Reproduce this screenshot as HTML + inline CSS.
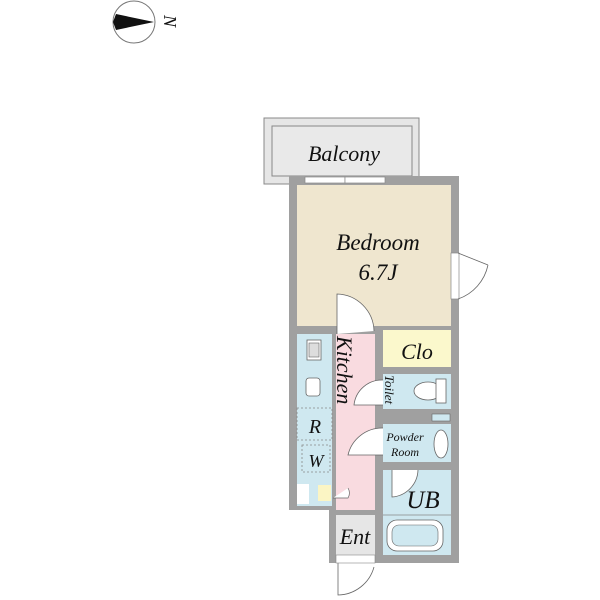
<!DOCTYPE html>
<html><head><style>
html,body{margin:0;padding:0;background:#fff;}
svg{display:block;}
text{font-family:"Liberation Serif",serif;font-style:italic;fill:#111;}
</style></head><body>
<svg width="600" height="600" viewBox="0 0 600 600" xmlns="http://www.w3.org/2000/svg">
<!-- compass -->
<circle cx="134" cy="22" r="21" fill="#fff" stroke="#777" stroke-width="1"/>
<polygon points="113,22 116,14 154,22 116,30" fill="#111"/>
<text x="0" y="0" font-size="18" font-style="normal" transform="translate(164,15) rotate(90)">N</text>

<!-- balcony -->
<rect x="264" y="118" width="155" height="66" fill="#e6e6e6" stroke="#888" stroke-width="1"/>
<rect x="272" y="126" width="140" height="50" fill="#e9e9e9" stroke="#888" stroke-width="1"/>
<text x="344" y="161" font-size="22" text-anchor="middle">Balcony</text>

<!-- outer walls -->
<rect x="289" y="176" width="170" height="158" fill="#a0a0a0"/>
<rect x="289" y="326" width="170" height="237" fill="#a0a0a0"/>
<rect x="289" y="326" width="47" height="184" fill="#a0a0a0"/>
<rect x="289" y="510" width="40" height="60" fill="#fff"/>
<rect x="329" y="510" width="130" height="53" fill="#a0a0a0"/>

<!-- bedroom -->
<rect x="297" y="185" width="154" height="141" fill="#efe6cf"/>
<rect x="305" y="177" width="40" height="6" fill="#fff" stroke="#888" stroke-width="0.7"/>
<rect x="345" y="177" width="40" height="6" fill="#fff" stroke="#888" stroke-width="0.7"/>
<text x="378" y="250" font-size="23" text-anchor="middle">Bedroom</text>
<text x="378" y="280" font-size="23" text-anchor="middle">6.7J</text>
<!-- window right -->
<rect x="451" y="253" width="8" height="46" fill="#fff" stroke="#888" stroke-width="0.7"/>
<path d="M458 253 L488 265 M458 299 A46 46 0 0 0 488 265" fill="none" stroke="#666" stroke-width="0.8"/>
<!-- bedroom door -->
<path d="M337 334 L337 294 A38 38 0 0 1 374 331" fill="#fff" stroke="#666" stroke-width="0.8"/>

<!-- kitchen col -->
<rect x="297" y="334" width="35" height="172" fill="#cfe8f0"/>
<rect x="336" y="334" width="39" height="176" fill="#f9dbe0"/>
<rect x="307" y="340" width="14" height="20" fill="#fff" stroke="#666" stroke-width="0.8"/>
<rect x="309" y="343" width="10" height="14" fill="#ddd" stroke="#666" stroke-width="0.6"/>
<rect x="306" y="378" width="14" height="18" rx="3" fill="#fff" stroke="#666" stroke-width="0.8"/>
<rect x="297" y="408" width="35" height="32" fill="#cfe8f0" stroke="#888" stroke-dasharray="2,2" stroke-width="0.8"/>
<text x="315" y="433" font-size="20" text-anchor="middle">R</text>
<rect x="302" y="445" width="28" height="27" fill="#cfe8f0" stroke="#888" stroke-dasharray="2,2" stroke-width="0.8"/>
<text x="316" y="467" font-size="18" text-anchor="middle">W</text>
<rect x="297" y="484" width="12" height="20" fill="#fff"/>
<rect x="318" y="485" width="13" height="16" fill="#fbf5c4"/>
<path d="M333 498 L348 498 A10 10 0 0 0 348 488" fill="#fff" stroke="#666" stroke-width="0.7"/>
<text x="0" y="0" font-size="22" transform="translate(337,336) rotate(90)">Kitchen</text>

<!-- ent -->
<rect x="336" y="515" width="39" height="40" fill="#e6e6e6"/>
<text x="355" y="544" font-size="22" text-anchor="middle">Ent</text>
<path d="M338 563 L338 595 A38 38 0 0 0 374 567" fill="#fff" stroke="#666" stroke-width="0.8"/>
<rect x="336" y="555" width="39" height="8" fill="#fff" stroke="#888" stroke-width="0.6"/>

<!-- right rooms -->
<rect x="383" y="330" width="68" height="37" fill="#fbf8cc"/>
<text x="417" y="359" font-size="22" text-anchor="middle">Clo</text>
<rect x="383" y="374" width="68" height="35" fill="#cfe8f0"/>
<text x="0" y="0" font-size="13" transform="translate(385,375) rotate(90)">Toilet</text>
<ellipse cx="428" cy="391" rx="14" ry="9" fill="#fff" stroke="#666" stroke-width="0.8"/>
<rect x="436" y="379" width="10" height="24" fill="#fff" stroke="#666" stroke-width="0.8"/>
<rect x="432" y="414" width="18" height="7" fill="#cfe8f0" stroke="#666" stroke-width="0.6"/>
<path d="M383 405 L354 405 A28 28 0 0 1 383 380" fill="#fff" stroke="#666" stroke-width="0.8"/>
<rect x="383" y="424" width="68" height="38" fill="#cfe8f0"/>
<text x="405" y="441" font-size="12" text-anchor="middle">Powder</text>
<text x="405" y="456" font-size="12" text-anchor="middle">Room</text>
<ellipse cx="441" cy="444" rx="7" ry="14" fill="#fff" stroke="#666" stroke-width="0.8"/>
<path d="M383 455 L348 455 A35 35 0 0 1 383 428" fill="#fff" stroke="#666" stroke-width="0.8"/>
<rect x="383" y="470" width="68" height="85" fill="#cfe8f0"/>
<path d="M392 470 L392 497 A28 28 0 0 0 418 470" fill="#fff" stroke="#666" stroke-width="0.8"/>
<text x="423" y="508" font-size="25" text-anchor="middle">UB</text>
<line x1="383" y1="515" x2="451" y2="515" stroke="#888" stroke-width="0.8"/>
<rect x="387" y="520" width="56" height="31" rx="10" fill="#fff" stroke="#666" stroke-width="0.8"/>
<rect x="392" y="525" width="46" height="21" rx="7" fill="#cfe8f0" stroke="#666" stroke-width="0.6"/>
</svg>
</body></html>
